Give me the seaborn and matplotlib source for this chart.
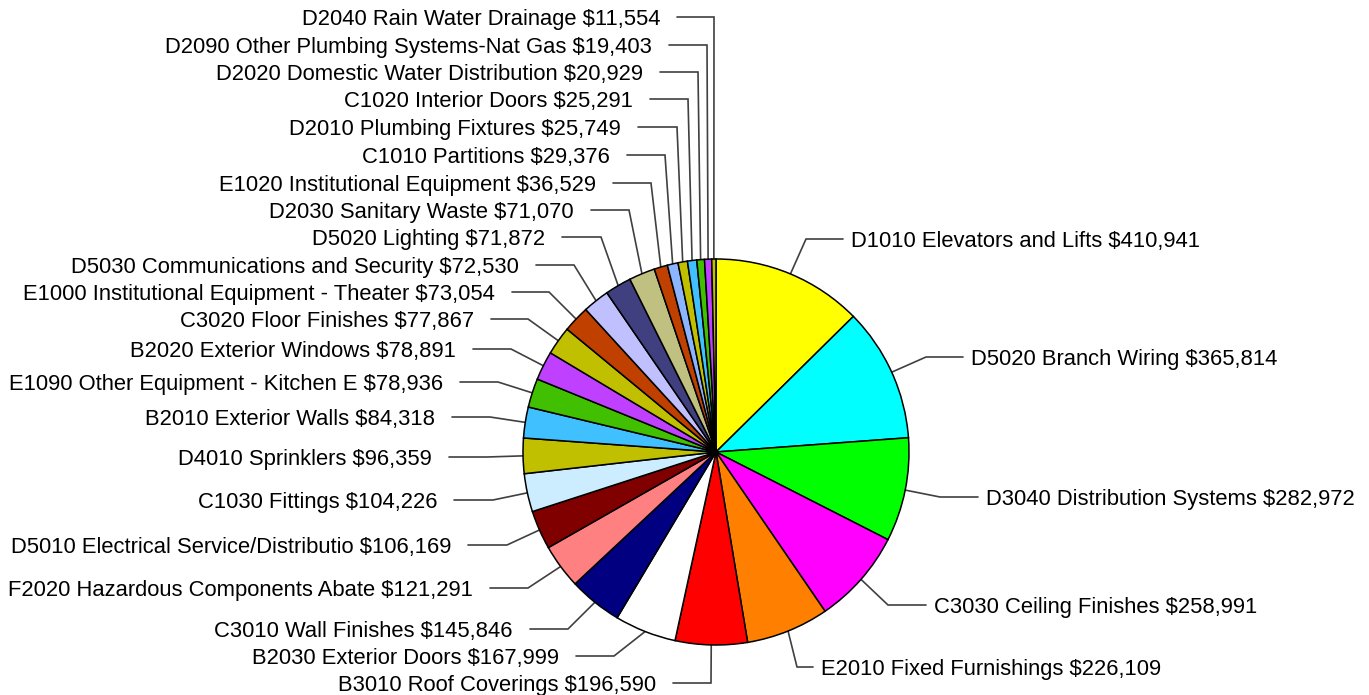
import numpy as np
import matplotlib
matplotlib.use("Agg")
import matplotlib.pyplot as plt
import seaborn as sns

# ---------------- data ----------------
codes = ["D1010", "D5020", "D3040", "C3030", "E2010", "B3010", "B2030", "C3010",
         "F2020", "D5010", "C1030", "D4010", "B2010", "E1090", "B2020", "C3020",
         "E1000", "D5030", "D5020", "D2030", "E1020", "C1010", "D2010", "C1020",
         "D2020", "D2090", "D2040"]
names = ["Elevators and Lifts", "Branch Wiring", "Distribution Systems",
         "Ceiling Finishes", "Fixed Furnishings", "Roof Coverings",
         "Exterior Doors", "Wall Finishes", "Hazardous Components Abate",
         "Electrical Service/Distributio", "Fittings", "Sprinklers",
         "Exterior Walls", "Other Equipment - Kitchen E", "Exterior Windows",
         "Floor Finishes", "Institutional Equipment - Theater",
         "Communications and Security", "Lighting", "Sanitary Waste",
         "Institutional Equipment", "Partitions", "Plumbing Fixtures",
         "Interior Doors", "Domestic Water Distribution",
         "Other Plumbing Systems-Nat Gas", "Rain Water Drainage"]
values = [410941, 365814, 282972, 258991, 226109, 196590, 167999, 145846,
          121291, 106169, 104226, 96359, 84318, 78936, 78891, 77867,
          73054, 72530, 71872, 71070, 36529, 29376, 25749, 25291,
          20929, 19403, 11554]

# ---------------- styles ----------------
colors = ["#FFFF00", "#00FFFF", "#00FF00", "#FF00FF", "#FF8000", "#FF0000",
          "#FFFFFF", "#000080", "#FF8080", "#800000", "#CCECFF", "#C0C000",
          "#40C0FF", "#40C000", "#C040FF", "#C0C000", "#C04000", "#C0C0FF",
          "#404080", "#C0C080", "#C04000", "#8CB4FF", "#C0C000", "#40C0FF",
          "#40C000", "#C040FF", "#C0C000"]

# label layout in image pixels: side, y, elbow x, outer x of horizontal segment
label_side = ["R", "R", "R", "R", "R"] + ["L"] * 22
label_y = [239, 357, 497, 605, 667, 683, 656, 629, 588, 545, 500, 457, 417,
           382, 349, 319, 292, 265, 237, 210, 183, 155, 127, 99, 72, 45, 17]
elbow_x = [806, 926, 940, 888, 797, 711, 614, 568, 528, 507, 493, 487, 490,
           498, 511, 528, 549, 574, 601, 629, 651, 665, 677, 688, 698, 707, 714]
outer_x = [843, 963, 978, 926, 813, 673, 576, 530, 490, 468, 454, 449, 452,
           460, 473, 491, 512, 536, 562, 591, 613, 627, 638, 650, 660, 669, 677]

W, H = 1369, 695
CX, CY, R = 716, 452, 193

sns.set_theme(style="white")
plt.rcParams["font.family"] = ["Liberation Sans", "DejaVu Sans"]

fig = plt.figure(figsize=(W / 100, H / 100), dpi=100)
ax = fig.add_axes([0, 0, 1, 1])

wedges, _ = ax.pie(values, colors=sns.color_palette(colors, len(colors)),
                   startangle=90, counterclock=False,
                   center=(CX, H - CY), radius=R,
                   wedgeprops=dict(edgecolor="black", linewidth=1.1))
ax.set_xlim(0, W)
ax.set_ylim(0, H)
ax.set_aspect("equal")
ax.axis("off")

for i, w in enumerate(wedges):
    mid = np.deg2rad((w.theta1 + w.theta2) / 2.0)
    rx = CX + R * np.cos(mid)
    ry = (H - CY) + R * np.sin(mid)
    ly = H - label_y[i]
    ax.plot([rx, elbow_x[i], outer_x[i]], [ry, ly, ly], color="#404040",
            lw=1.2, solid_joinstyle="miter", zorder=0)
    txt = f"{codes[i]} {names[i]} ${values[i]:,}"
    if label_side[i] == "R":
        ax.text(outer_x[i] + 8, ly, txt, ha="left", va="center_baseline",
                fontsize=15.8, color="black", parse_math=False)
    else:
        ax.text(outer_x[i] - 17, ly, txt, ha="right", va="center_baseline",
                fontsize=15.8, color="black", parse_math=False)

fig.savefig("out.png", dpi=100)
